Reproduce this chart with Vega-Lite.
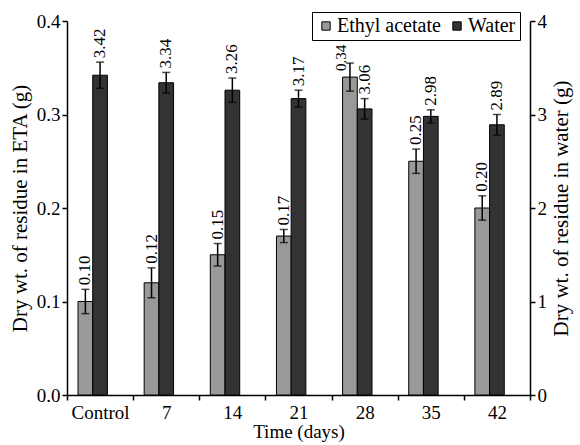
{
  "$schema": "https://vega.github.io/schema/vega-lite/v6.json",
  "width": 463,
  "height": 374,
  "autosize": {"type": "none"},
  "padding": {"left": 67, "top": 21, "right": 50, "bottom": 50},
  "background": "white",
  "config": {
    "view": {"stroke": null},
    "font": "Liberation Serif",
    "text": {"font": "Liberation Serif"},
    "legend": {"labelFont": "Liberation Serif", "titleFont": "Liberation Serif"},
    "axis": {
      "labelFont": "Liberation Serif",
      "titleFont": "Liberation Serif",
      "labelFontSize": 19,
      "titleFontSize": 19,
      "titleFontWeight": "normal",
      "labelColor": "black",
      "titleColor": "black",
      "domainColor": "black",
      "tickColor": "black",
      "domainWidth": 1.5,
      "tickWidth": 1.5,
      "tickSize": 5,
      "grid": false
    },
    "axisY": {"titleFontSize": 21}
  },
  "data": {
    "values": [
      {"time": "Control", "series": "Ethyl acetate", "value": 0.10, "err": 0.013},
      {"time": "7", "series": "Ethyl acetate", "value": 0.12, "err": 0.016},
      {"time": "14", "series": "Ethyl acetate", "value": 0.15, "err": 0.012},
      {"time": "21", "series": "Ethyl acetate", "value": 0.17, "err": 0.007},
      {"time": "28", "series": "Ethyl acetate", "value": 0.34, "err": 0.015},
      {"time": "35", "series": "Ethyl acetate", "value": 0.25, "err": 0.013},
      {"time": "42", "series": "Ethyl acetate", "value": 0.20, "err": 0.013},
      {"time": "Control", "series": "Water", "value": 3.42, "err": 0.14},
      {"time": "7", "series": "Water", "value": 3.34, "err": 0.11},
      {"time": "14", "series": "Water", "value": 3.26, "err": 0.13},
      {"time": "21", "series": "Water", "value": 3.17, "err": 0.09},
      {"time": "28", "series": "Water", "value": 3.06, "err": 0.11},
      {"time": "35", "series": "Water", "value": 2.98, "err": 0.07},
      {"time": "42", "series": "Water", "value": 2.89, "err": 0.11}
    ]
  },
  "transform": [
    {"calculate": "datum.value - datum.err", "as": "lo"},
    {"calculate": "datum.value + datum.err", "as": "hi"}
  ],
  "encoding": {
    "x": {
      "field": "time",
      "type": "nominal",
      "sort": ["Control", "7", "14", "21", "28", "35", "42"],
      "scale": {"paddingInner": 0, "paddingOuter": 0},
      "axis": {"title": "Time (days)", "labelAngle": 0, "tickBand": "extent", "labelPadding": 3, "titlePadding": 0}
    },
    "xOffset": {
      "field": "series",
      "type": "nominal",
      "scale": {"domain": ["Ethyl acetate", "Water", "pad"], "paddingInner": 0, "paddingOuter": 0.75}
    }
  },
  "layer": [
    {
      "transform": [{"filter": "datum.series === 'Ethyl acetate'"}],
      "layer": [
        {
          "mark": {"type": "bar", "stroke": "black", "strokeWidth": 1},
          "encoding": {
            "y": {"field": "value", "type": "quantitative", "scale": {"domain": [0, 0.4], "nice": false},
              "axis": {"title": "Dry wt. of residue in ETA (g)", "orient": "left", "format": ".1f", "values": [0, 0.1, 0.2, 0.3, 0.4], "titlePadding": 6}},
            "color": {"field": "series", "type": "nominal",
              "scale": {"domain": ["Ethyl acetate", "Water"], "range": ["#999999", "#333333"]},
              "legend": {"orient": "none", "legendX": 245, "legendY": -9, "direction": "horizontal", "title": null,
                "symbolType": "square", "symbolSize": 70, "symbolStrokeColor": "black", "symbolStrokeWidth": 1,
                "labelFont": "Liberation Serif", "labelFontSize": 20, "labelColor": "black", "labelOffset": 1,
                "strokeColor": "black", "fillColor": "white", "padding": 4, "columnPadding": 6, "symbolOpacity": 1}}
          }
        },
        {
          "mark": {"type": "rule", "color": "black", "strokeWidth": 1.5},
          "encoding": {
            "y": {"field": "lo", "type": "quantitative", "axis": {"title": "Dry wt. of residue in ETA (g)", "orient": "left", "format": ".1f", "values": [0, 0.1, 0.2, 0.3, 0.4], "titlePadding": 6}},
            "y2": {"field": "hi"}
          }
        },
        {
          "mark": {"type": "tick", "color": "black", "thickness": 1.5, "size": 8, "orient": "horizontal"},
          "encoding": {"y": {"field": "lo", "type": "quantitative", "axis": {"title": "Dry wt. of residue in ETA (g)", "orient": "left", "format": ".1f", "values": [0, 0.1, 0.2, 0.3, 0.4], "titlePadding": 6}}}
        },
        {
          "mark": {"type": "tick", "color": "black", "thickness": 1.5, "size": 8, "orient": "horizontal"},
          "encoding": {"y": {"field": "hi", "type": "quantitative", "axis": {"title": "Dry wt. of residue in ETA (g)", "orient": "left", "format": ".1f", "values": [0, 0.1, 0.2, 0.3, 0.4], "titlePadding": 6}}}
        },
        {
          "transform": [{"filter": "datum.time !== '28'"}],
          "mark": {"type": "text", "angle": 270, "align": "left", "baseline": "middle", "dx": 4, "fontSize": 17, "font": "Liberation Serif", "color": "black"},
          "encoding": {
            "y": {"field": "hi", "type": "quantitative", "axis": {"title": "Dry wt. of residue in ETA (g)", "orient": "left", "format": ".1f", "values": [0, 0.1, 0.2, 0.3, 0.4], "titlePadding": 6}},
            "text": {"field": "value", "type": "quantitative", "format": ".2f"}
          }
        },
        {
          "transform": [{"filter": "datum.time === '28'"}],
          "mark": {"type": "text", "angle": 270, "align": "left", "baseline": "middle", "dx": 6, "dy": -9, "fontSize": 15, "font": "Liberation Serif", "color": "black"},
          "encoding": {
            "y": {"field": "value", "type": "quantitative", "axis": {"title": "Dry wt. of residue in ETA (g)", "orient": "left", "format": ".1f", "values": [0, 0.1, 0.2, 0.3, 0.4], "titlePadding": 6}},
            "text": {"field": "value", "type": "quantitative", "format": ".2f"}
          }
        }
      ]
    },
    {
      "transform": [{"filter": "datum.series === 'Water'"}],
      "layer": [
        {
          "mark": {"type": "bar", "stroke": "black", "strokeWidth": 1},
          "encoding": {
            "y": {"field": "value", "type": "quantitative", "scale": {"domain": [0, 4], "nice": false},
              "axis": {"title": "Dry wt. of residue in water (g)", "orient": "right", "format": "d", "values": [0, 1, 2, 3, 4], "titleAngle": 270, "titleBaseline": "top", "titlePadding": 4}},
            "color": {"field": "series", "type": "nominal"}
          }
        },
        {
          "mark": {"type": "rule", "color": "black", "strokeWidth": 1.5},
          "encoding": {
            "y": {"field": "lo", "type": "quantitative", "axis": {"title": "Dry wt. of residue in water (g)", "orient": "right", "format": "d", "values": [0, 1, 2, 3, 4], "titleAngle": 270, "titleBaseline": "top", "titlePadding": 4}},
            "y2": {"field": "hi"}
          }
        },
        {
          "mark": {"type": "tick", "color": "black", "thickness": 1.5, "size": 8, "orient": "horizontal"},
          "encoding": {"y": {"field": "lo", "type": "quantitative", "axis": {"title": "Dry wt. of residue in water (g)", "orient": "right", "format": "d", "values": [0, 1, 2, 3, 4], "titleAngle": 270, "titleBaseline": "top", "titlePadding": 4}}}
        },
        {
          "mark": {"type": "tick", "color": "black", "thickness": 1.5, "size": 8, "orient": "horizontal"},
          "encoding": {"y": {"field": "hi", "type": "quantitative", "axis": {"title": "Dry wt. of residue in water (g)", "orient": "right", "format": "d", "values": [0, 1, 2, 3, 4], "titleAngle": 270, "titleBaseline": "top", "titlePadding": 4}}}
        },
        {
          "mark": {"type": "text", "angle": 270, "align": "left", "baseline": "middle", "dx": 4, "fontSize": 17, "font": "Liberation Serif", "color": "black"},
          "encoding": {
            "y": {"field": "hi", "type": "quantitative", "axis": {"title": "Dry wt. of residue in water (g)", "orient": "right", "format": "d", "values": [0, 1, 2, 3, 4], "titleAngle": 270, "titleBaseline": "top", "titlePadding": 4}},
            "text": {"field": "value", "type": "quantitative", "format": ".2f"}
          }
        }
      ]
    }
  ],
  "resolve": {"scale": {"y": "independent"}}
}
